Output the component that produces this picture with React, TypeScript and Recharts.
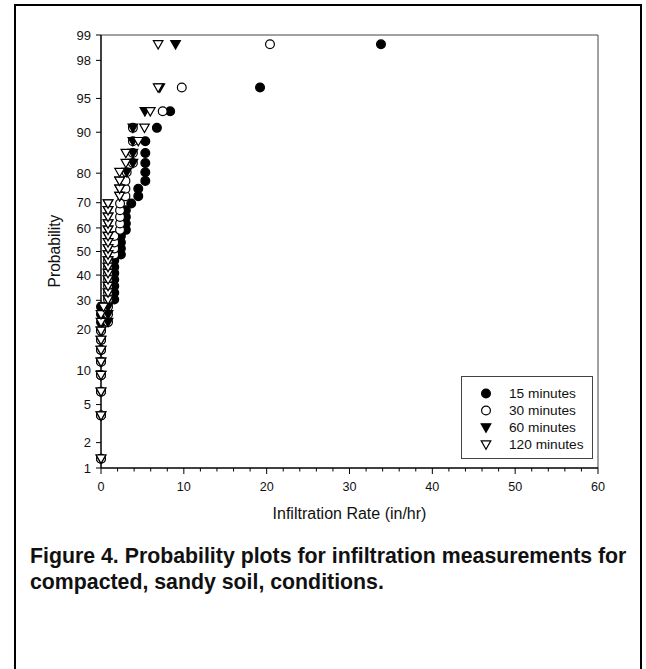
import { ReferenceLine, Scatter, ScatterChart, XAxis, YAxis } from 'recharts';

// plotting positions (%) shared by all four series
const PROB = [
  1.3, 3.9, 6.6, 9.2, 11.8, 14.5, 17.1, 19.7, 22.4, 25.0, 27.6, 30.3, 32.9, 35.5, 38.2, 40.8, 43.4, 46.1, 48.7,
  51.3, 53.9, 56.6, 59.2, 61.8, 64.5, 67.1, 69.7, 72.4, 75.0, 77.6, 80.3, 82.9, 85.5, 88.2, 90.8, 93.4, 96.1, 98.7,
];

// infiltration rate (in/hr), sorted
const RATE_15 = [
  0, 0, 0, 0, 0, 0, 0, 0, 0, 0, 0, 1.6, 1.6, 1.6, 1.6, 1.6, 1.6, 1.6, 2.4, 2.4, 2.4, 2.4, 3.0, 3.0, 3.0, 3.0, 3.65,
  4.5, 4.5, 5.35, 5.35, 5.35, 5.35, 5.35, 6.75, 8.35, 19.2, 33.8,
];
const RATE_30 = [
  0, 0, 0, 0, 0, 0, 0, 0, 0.85, 0.85, 0.85, 0.85, 0.85, 0.85, 0.85, 0.85, 0.85, 0.85, 1.6, 1.6, 1.6, 1.6, 2.3, 2.3,
  2.3, 2.3, 2.3, 2.95, 2.95, 2.95, 3.1, 3.85, 3.85, 3.85, 3.85, 7.45, 9.75, 20.4,
];
const RATE_60 = [
  0, 0, 0, 0, 0, 0, 0, 0, 0.85, 0.85, 0.85, 0.85, 0.85, 0.85, 0.85, 0.85, 0.85, 0.85, 0.85, 0.85, 0.85, 0.85, 0.85,
  0.85, 0.85, 0.85, 0.85, 2.25, 2.25, 2.25, 3.1, 3.85, 3.85, 3.85, 3.85, 5.3, 7.1, 9.0,
];
const RATE_120 = [
  0, 0, 0, 0, 0, 0, 0, 0, 0, 0, 0.3, 0.85, 0.85, 0.85, 0.85, 0.85, 0.85, 0.85, 0.85, 0.85, 0.85, 0.85, 0.85, 0.85,
  0.85, 0.85, 0.85, 2.25, 2.25, 2.25, 2.25, 3.0, 3.0, 4.5, 5.25, 5.95, 6.9, 6.9,
];

const Y_TICK_LABELS = [1, 2, 5, 10, 20, 30, 40, 50, 60, 70, 80, 90, 95, 98, 99];
const X_TICKS = [
  0, 2, 4, 6, 8, 10, 12, 14, 16, 18, 20, 22, 24, 26, 28, 30, 32, 34, 36, 38, 40, 42, 44, 46, 48, 50, 52, 54, 56, 58, 60,
];

const FONT = '"Liberation Sans", Arial, Helvetica, sans-serif';

// inverse normal CDF (Acklam) -> normal probability axis
function probit(p: number): number {
  const a = [-39.69683028665376, 220.9460984245205, -275.9285104469687, 138.357751867269, -30.66479806614716, 2.506628277459239];
  const b = [-54.47609879822406, 161.5858368580409, -155.6989798598866, 66.80131188771972, -13.28068155288572];
  const c = [-0.007784894002430293, -0.3223964580411365, -2.400758277161838, -2.549732539343734, 4.374664141464968, 2.938163982698783];
  const d = [0.007784695709041462, 0.3224671290700398, 2.445134137142996, 3.754408661907416];
  const lo = 0.02425;
  if (p < lo) {
    const q = Math.sqrt(-2 * Math.log(p));
    return (((((c[0] * q + c[1]) * q + c[2]) * q + c[3]) * q + c[4]) * q + c[5]) / ((((d[0] * q + d[1]) * q + d[2]) * q + d[3]) * q + 1);
  }
  if (p > 1 - lo) return -probit(1 - p);
  const q = p - 0.5;
  const r = q * q;
  return ((((((a[0] * r + a[1]) * r + a[2]) * r + a[3]) * r + a[4]) * r + a[5]) * q) /
    (((((b[0] * r + b[1]) * r + b[2]) * r + b[3]) * r + b[4]) * r + 1);
}

const Y_TICKS = Y_TICK_LABELS.map((p) => probit(p / 100));
const Y_MIN = probit(0.01);
const Y_MAX = probit(0.99);

const toPoints = (rates: number[]) => rates.map((x, i) => ({ x, z: probit(PROB[i] / 100) }));

const Dot = ({ cx, cy, open }: any) => (
  <circle cx={cx} cy={cy} r={4.4} fill={open ? '#fff' : '#000'} stroke="#000" strokeWidth={1.2} />
);
const Tri = ({ cx, cy, open }: any) => (
  <path
    d={`M${cx - 4.8},${cy - 3.7}L${cx + 4.8},${cy - 3.7}L${cx},${cy + 4.7}Z`}
    fill={open ? '#fff' : '#000'}
    stroke="#000"
    strokeWidth={1.2}
  />
);

const XTick = ({ x, y, payload }: any) => {
  const major = payload.value % 10 === 0;
  return (
    <g>
      <line x1={x} x2={x} y1={y} y2={y + (major ? 6 : 3.5)} stroke="#000" strokeWidth={1} />
      {major && (
        <text x={x} y={y + 23} textAnchor="middle" fontSize={12.6} fontFamily={FONT} fill="#111">
          {payload.value}
        </text>
      )}
    </g>
  );
};

const legendItems = [
  { label: '15 minutes', kind: 'dot', open: false },
  { label: '30 minutes', kind: 'dot', open: true },
  { label: '60 minutes', kind: 'tri', open: false },
  { label: '120 minutes', kind: 'tri', open: true },
];

export default function App() {
  return (
    <div style={{ position: 'absolute', left: 0, top: 0, width: 646, height: 669, background: '#fff', fontFamily: FONT }}>
      {/* page frame */}
      <div style={{ position: 'absolute', left: 14, top: 4, width: 2, height: 665, background: '#000' }} />
      <div style={{ position: 'absolute', left: 14, top: 4, width: 628, height: 2, background: '#000' }} />
      <div style={{ position: 'absolute', left: 640, top: 4, width: 2, height: 665, background: '#000' }} />

      <div style={{ position: 'absolute', left: 0, top: 0 }}>
        <ScatterChart width={646} height={530} margin={{ top: 35, right: 48, bottom: 7, left: 0 }}>
          <XAxis
            type="number"
            dataKey="x"
            domain={[0, 60]}
            ticks={X_TICKS}
            interval={0}
            tickSize={0}
            tickMargin={0}
            tickLine={false}
            tick={<XTick />}
            axisLine={{ stroke: '#000', strokeWidth: 1.5 }}
            height={55}
          />
          <YAxis
            type="number"
            dataKey="z"
            domain={[Y_MIN, Y_MAX]}
            ticks={Y_TICKS}
            interval={0}
            width={101}
            tickSize={5}
            tickMargin={5}
            tickLine={{ stroke: '#000' }}
            axisLine={{ stroke: '#000', strokeWidth: 1.5 }}
            tick={{ fontSize: 13, fontFamily: FONT, fill: '#111' }}
            tickFormatter={(v: number) => {
              const i = Y_TICKS.findIndex((t) => Math.abs(t - v) < 1e-6);
              return i >= 0 ? String(Y_TICK_LABELS[i]) : '';
            }}
          />
          <ReferenceLine y={Y_MAX} stroke="#444" strokeWidth={1} />
          <ReferenceLine x={60} stroke="#444" strokeWidth={1} />
          <Scatter data={toPoints(RATE_15)} shape={(p: any) => <Dot {...p} open={false} />} isAnimationActive={false} />
          <Scatter data={toPoints(RATE_30)} shape={(p: any) => <Dot {...p} open />} isAnimationActive={false} />
          <Scatter data={toPoints(RATE_60)} shape={(p: any) => <Tri {...p} open={false} />} isAnimationActive={false} />
          <Scatter data={toPoints(RATE_120)} shape={(p: any) => <Tri {...p} open />} isAnimationActive={false} />
        </ScatterChart>
      </div>

      {/* axis titles */}
      <div
        style={{
          position: 'absolute',
          left: 55,
          top: 251,
          transform: 'translate(-50%, -50%) rotate(-90deg)',
          fontSize: 15.6,
          color: '#111',
          whiteSpace: 'nowrap',
        }}
      >
        Probability
      </div>
      <div
        style={{
          position: 'absolute',
          left: 349.5,
          top: 513.5,
          transform: 'translate(-50%, -50%)',
          fontSize: 16,
          color: '#111',
          whiteSpace: 'nowrap',
        }}
      >
        Infiltration Rate (in/hr)
      </div>

      {/* legend */}
      <div
        style={{
          position: 'absolute',
          left: 461,
          top: 376,
          width: 130,
          height: 81,
          border: '1px solid #444',
          background: '#fff',
        }}
      >
        {legendItems.map((it, i) => (
          <div key={it.label} style={{ position: 'absolute', left: 0, top: 8 + i * 16.9, height: 17, width: 130 }}>
            <svg width={20} height={17} style={{ position: 'absolute', left: 14, top: 0 }}>
              {it.kind === 'dot' ? <Dot cx={10} cy={8.5} open={it.open} /> : <Tri cx={10} cy={8.5} open={it.open} />}
            </svg>
            <span style={{ position: 'absolute', left: 47, top: 0, fontSize: 13.7, lineHeight: '17px', color: '#111', whiteSpace: 'nowrap' }}>
              {it.label}
            </span>
          </div>
        ))}
      </div>

      {/* caption */}
      <div
        style={{
          position: 'absolute',
          left: 30,
          top: 544,
          fontSize: 21.3,
          fontWeight: 'bold',
          lineHeight: '25.5px',
          color: '#111',
          whiteSpace: 'nowrap',
        }}
      >
        Figure 4. Probability plots for infiltration measurements for
        <br />
        compacted, sandy soil, conditions.
      </div>
    </div>
  );
}
